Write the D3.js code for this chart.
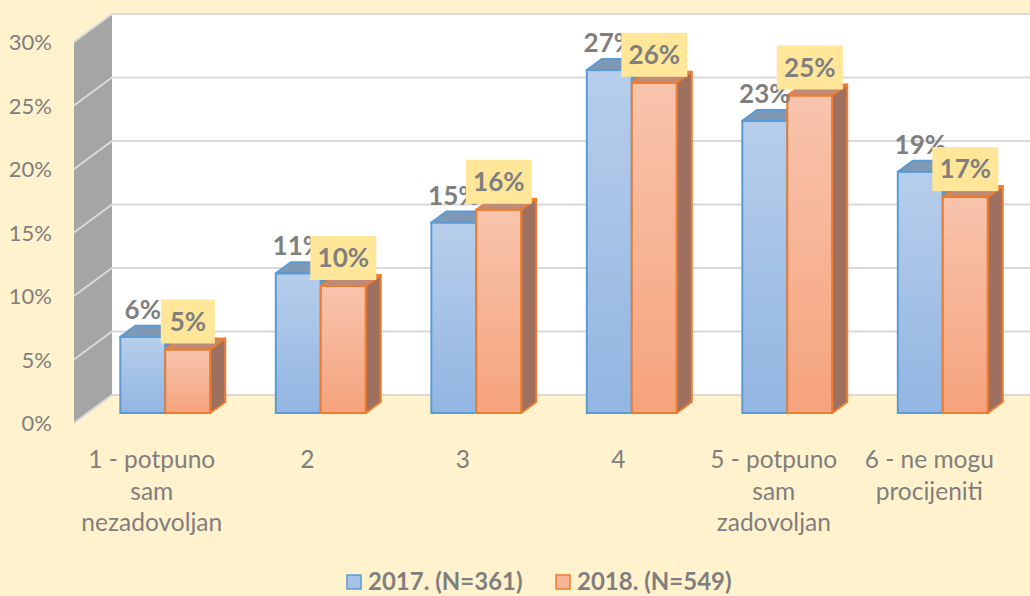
<!DOCTYPE html>
<html>
<head>
<meta charset="utf-8">
<script src="https://cdn.jsdelivr.net/npm/d3@7"></script>
<style>
  body { margin: 0; background: #FFF2CC; }
  svg { display: block; font-family: Lato, "Open Sans", sans-serif; }
</style>
</head>
<body>
<svg width="1030" height="596"></svg>
<script>
// survey satisfaction, 2017 vs 2018, 3D clustered columns

var categories = [
  ['1 - potpuno', 'sam', 'nezadovoljan'],
  ['2'],
  ['3'],
  ['4'],
  ['5 - potpuno', 'sam', 'zadovoljan'],
  ['6 - ne mogu', 'procijeniti']
];
var series = ['2017. (N=361)', '2018. (N=549)'];
var values2017 = [6, 11, 15, 27, 23, 19];
var values2018 = [5, 10, 16, 26, 25, 17];
var yTicks = [0, 5, 10, 15, 20, 25, 30];

var svg = d3.select('svg');
var gray = '#7F7F7F';

// depth of the room (back wall offset)
var depthX = 38, depthY = 28;
// bar front/back planes as fraction of depth
var d0 = 0.357, d1 = 0.75;

var xScale = d3.scaleBand()
  .domain(d3.range(categories.length))
  .range([74, 1007]);
var yScale = d3.scaleLinear()
  .domain([0, 30])
  .range([423, 42]);

function px(x, d){ return x + depthX * d; }
function py(y, d){ return y - depthY * d; }

var defs = svg.append('defs');
function grad(id, c1, c2){
  var g = defs.append('linearGradient').attr('id', id)
    .attr('x1', 0).attr('y1', 0).attr('x2', 0).attr('y2', 1);
  g.append('stop').attr('offset', '0%').attr('stop-color', c1);
  g.append('stop').attr('offset', '100%').attr('stop-color', c2);
}
grad('gBlue', '#B7CEEB', '#92B5E2');
grad('gOrange', '#F8C4AD', '#F5A37C');

// back wall
var x0 = xScale.range()[0], yTop = yScale(30), yBot = yScale(0);
svg.append('rect')
  .attr('x', px(x0, 1)).attr('y', py(yTop, 1))
  .attr('width', 1030 - px(x0, 1)).attr('height', yBot - yTop)
  .attr('fill', '#fff');

// side wall
svg.append('polygon')
  .attr('points', [[x0, yTop], [px(x0, 1), py(yTop, 1)], [px(x0, 1), py(yBot, 1)], [x0, yBot]].join(' '))
  .attr('fill', '#A5A5A5');

// gridlines
yTicks.forEach(function(t){
  var y = yScale(t);
  svg.append('polyline')
    .attr('points', [[x0, y], [px(x0, 1), py(y, 1)], [1030, py(y, 1)]].join(' '))
    .attr('fill', 'none')
    .attr('stroke', '#D9D9D9')
    .attr('stroke-width', 2);
});

// y tick labels
svg.selectAll('.ytick')
  .data(yTicks)
  .enter()
  .append('text')
  .attr('x', 52)
  .attr('y', function(d){ return yScale(d) + 8; })
  .attr('text-anchor', 'end')
  .attr('font-size', 22)
  .attr('fill', gray)
  .text(function(d){ return d + '%'; });

var barW = 45;

function drawBar(xl, v, fillId, stroke, topFill, sideFill){
  var yt = yScale(v), yb = yScale(0);
  var xr = xl + barW;
  var g = svg.append('g');
  // front
  g.append('rect')
    .attr('x', px(xl, d0)).attr('y', py(yt, d0))
    .attr('width', barW).attr('height', yb - yt)
    .attr('fill', 'url(#' + fillId + ')')
    .attr('stroke', stroke).attr('stroke-width', 2);
  // top
  g.append('polygon')
    .attr('points', [[px(xl, d0), py(yt, d0)], [px(xl, d1), py(yt, d1)], [px(xr, d1), py(yt, d1)], [px(xr, d0), py(yt, d0)]].join(' '))
    .attr('fill', topFill).attr('stroke', stroke).attr('stroke-width', 2).attr('stroke-linejoin', 'round');
  // side
  g.append('polygon')
    .attr('points', [[px(xr, d0), py(yt, d0)], [px(xr, d1), py(yt, d1)], [px(xr, d1), py(yb, d1)], [px(xr, d0), py(yb, d0)]].join(' '))
    .attr('fill', sideFill).attr('stroke', stroke).attr('stroke-width', 2).attr('stroke-linejoin', 'round');
}

categories.forEach(function(c, i){
  var cx = xScale(i) + xScale.bandwidth() / 2;
  drawBar(cx - barW, values2017[i], 'gBlue', '#5B9BD5', '#7F98B6', '#6F8FB5');
  drawBar(cx, values2018[i], 'gOrange', '#ED7D31', '#BF8B79', '#9E7060');
});

// 2017 labels
svg.selectAll('.lab17')
  .data(values2017)
  .enter()
  .append('text')
  .attr('x', function(d, i){ return px(xScale(i) + xScale.bandwidth() / 2 - barW / 2, d0); })
  .attr('y', function(d){ return py(yScale(d), d0) - 18; })
  .attr('text-anchor', 'middle')
  .attr('font-size', 26)
  .attr('font-weight', 'bold')
  .attr('fill', gray)
  .text(function(d){ return d + '%'; });

// 2018 labels with box
var lab18 = svg.selectAll('.lab18')
  .data(values2018)
  .enter()
  .append('g')
  .attr('transform', function(d, i){
    return 'translate(' + px(xScale(i) + xScale.bandwidth() / 2 + barW / 2, d0) + ',' + (py(yScale(d), d0) - 6) + ')';
  });
lab18.append('rect')
  .attr('x', function(d){ return d < 10 ? -27 : -33; })
  .attr('y', -44)
  .attr('width', function(d){ return d < 10 ? 54 : 66; })
  .attr('height', 44)
  .attr('fill', '#FFE699');
lab18.append('text')
  .attr('y', -13)
  .attr('text-anchor', 'middle')
  .attr('font-size', 26)
  .attr('font-weight', 'bold')
  .attr('fill', gray)
  .text(function(d){ return d + '%'; });

// category labels
categories.forEach(function(lines, i){
  var t = svg.append('text')
    .attr('x', xScale(i) + xScale.bandwidth() / 2)
    .attr('y', 468)
    .attr('text-anchor', 'middle')
    .attr('font-size', 24.5)
    .attr('fill', gray);
  lines.forEach(function(l, j){
    t.append('tspan')
      .attr('x', xScale(i) + xScale.bandwidth() / 2)
      .attr('dy', j === 0 ? 0 : 31.5)
      .text(l);
  });
});

// legend
var legend = [
  { name: series[0], x: 347, fill: '#A5C2E7', stroke: '#5B9BD5' },
  { name: series[1], x: 556, fill: '#F7B598', stroke: '#ED7D31' }
];
legend.forEach(function(l){
  svg.append('rect')
    .attr('x', l.x).attr('y', 575).attr('width', 14).attr('height', 14)
    .attr('fill', l.fill).attr('stroke', l.stroke).attr('stroke-width', 1.5);
  svg.append('text')
    .attr('x', l.x + 21).attr('y', 590)
    .attr('font-size', 24)
    .attr('font-weight', 'bold')
    .attr('fill', gray)
    .text(l.name);
});
</script>
</body>
</html>
